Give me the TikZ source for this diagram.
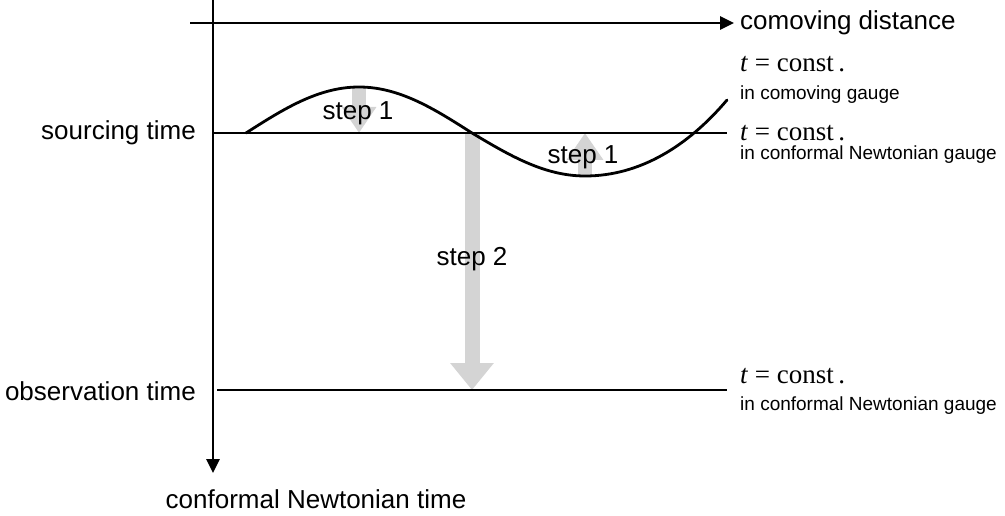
\documentclass[tikz,border=0pt]{standalone}
\usepackage{fontspec}
\setmainfont{Liberation Sans}
\newfontfamily\serifface{Liberation Serif}
\usetikzlibrary{arrows.meta}
\definecolor{stepgray}{HTML}{D4D4D4}
\begin{document}
\begin{tikzpicture}[x=1pt,y=-1pt,
  axis/.style={line width=2.8pt,-{Triangle[width=13pt,length=14pt]}},
  tline/.style={line width=2.8pt},
  grayarrow/.style={draw=stepgray,line width=14pt},
  lab/.style={font=\fontsize{26}{29}\selectfont,inner sep=0pt},
  gaugelab/.style={font=\fontsize{19}{21}\selectfont,inner sep=0pt,anchor=west},
  tclab/.style={font=\serifface\fontsize{27}{30}\selectfont,inner sep=0pt,anchor=west}]
\useasboundingbox (0,0) rectangle (1005,516);
% key points
\coordinate (vtop) at (213,0);
\coordinate (vbot) at (213,473);
\coordinate (hleft) at (190,23);
\coordinate (hright) at (734,23);
\coordinate (sL) at (213,133);
\coordinate (sR) at (727,133);
\coordinate (oL) at (217,390);
\coordinate (oR) at (727,390);
\coordinate (w0) at (246,133);
\coordinate (peak) at (359,87);
\coordinate (x1) at (472,133);
\coordinate (trough) at (585,176);
\coordinate (wend) at (727,100);
\coordinate (oX) at (472,390);
\coordinate (pS) at (359,133);
\coordinate (tS) at (585,133);
% gray step arrows
\draw[grayarrow,-{Triangle[width=33pt,length=26pt]}] (peak) -- (pS);
\draw[grayarrow,-{Triangle[width=35pt,length=27pt]}] (trough) -- (tS);
\draw[grayarrow,line width=15pt,-{Triangle[width=42pt,length=27pt]}] (x1) -- (oX);
% axes
\draw[axis] (vtop) -- (vbot);
\draw[axis] (hleft) -- (hright);
% time slices
\draw[tline] (sL) -- (sR);
\draw[tline] (oL) -- (oR);
% comoving slice
\draw[tline,line cap=round] (w0) sin (peak) cos (x1) sin (trough)
  .. controls (640,176) and (688,146) .. (wend);
% labels
\node[lab,anchor=west] (cd) at (740,23) {comoving distance};
\node[lab,anchor=east] (st) at (196,133) {sourcing time};
\node[lab,anchor=east] (ot) at (196,391) {observation time};
\node[lab] (cnt) at (316,499) {conformal Newtonian time};
\node[lab] (s1a) at (358,113) {step 1};
\node[lab] (s1b) at (583,157) {step 1};
\node[lab] (s2) at (472,259) {step 2};
\node[tclab] (tc1) at (740,64) {\textit{t} = const\,.};
\node[gaugelab] (g1) at (740,95) {in comoving gauge};
\node[tclab] (tc2) at (740,133) {\textit{t} = const\,.};
\node[gaugelab] (g2) at (740,155) {in conformal Newtonian gauge};
\node[tclab] (tc3) at (740,376) {\textit{t} = const\,.};
\node[gaugelab] (g3) at (740,406) {in conformal Newtonian gauge};
\end{tikzpicture}
\end{document}
